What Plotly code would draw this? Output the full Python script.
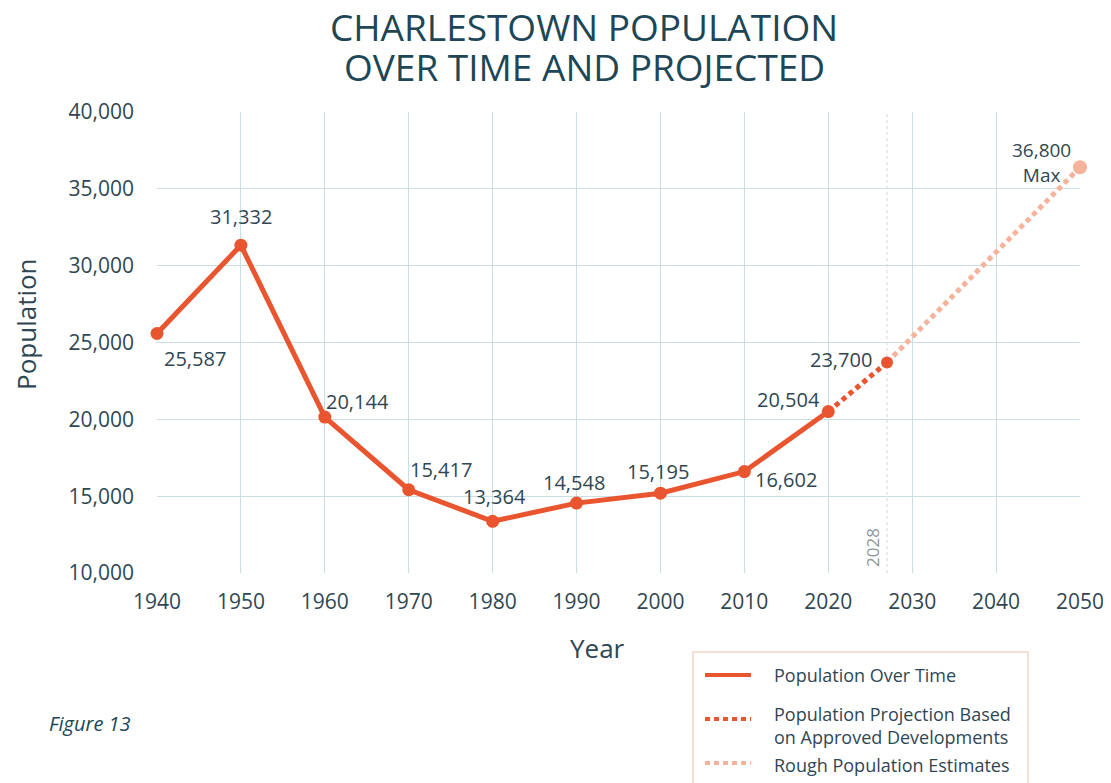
import plotly.graph_objects as go

# ---- data ----
hist_years = [1940, 1950, 1960, 1970, 1980, 1990, 2000, 2010, 2020]
hist_pop = [25587, 31332, 20144, 15417, 13364, 14548, 15195, 16602, 20504]
hist_labels = ["25,587", "31,332", "20,144", "15,417", "13,364", "14,548", "15,195", "16,602", "20,504"]

proj_years = [2020, 2027]
proj_pop = [20504, 23700]
proj_label = "23,700"

est_years = [2027, 2050]
est_pop = [23700, 36400]
est_label = "36,800<br>Max"

marker_year = 2027
marker_label = "2028"

x_ticks = [1940, 1950, 1960, 1970, 1980, 1990, 2000, 2010, 2020, 2030, 2040, 2050]
y_ticks = [10000, 15000, 20000, 25000, 30000, 35000, 40000]
y_ticklabels = ["10,000", "15,000", "20,000", "25,000", "30,000", "35,000", "40,000"]

legend_names = ["Population Over Time",
                "Population Projection Based<br>on Approved Developments",
                "Rough Population Estimates"]

# ---- style ----
ORANGE = "#E9552F"
LIGHT = "#F4B39A"
TEXT = "#2F4754"
TITLE = "#1D4756"
GRID = "#C9DFE2"
FONT = "Open Sans"
DASH = "5px,4px"

# label offsets (pixels) relative to points: (dx, dy) with dy positive downward
hist_offsets = [(38, 25), (0, -29), (33, -16), (32, -20), (2, -25), (-3, -21), (-2, -22), (42, 8), (-40, -12)]

# page geometry (browser body margin 8px)
BODY = 8
W, H = 1111 - BODY, 783 - BODY
L, T, PW, PH = 149, 104, 923, 461


def px(X):
    return (X - BODY - L) / PW


def py(Y):
    return (T + PH - (Y - BODY)) / PH


fig = go.Figure()

fig.add_trace(go.Scatter(
    x=hist_years, y=hist_pop, mode="lines+markers",
    name=legend_names[0],
    line=dict(color=ORANGE, width=5),
    marker=dict(color=ORANGE, size=13),
    showlegend=False, cliponaxis=False,
))

fig.add_trace(go.Scatter(
    x=proj_years, y=proj_pop, mode="lines",
    name=legend_names[1],
    line=dict(color=ORANGE, width=5, dash=DASH),
    showlegend=False,
))

fig.add_trace(go.Scatter(
    x=est_years, y=est_pop, mode="lines",
    name=legend_names[2],
    line=dict(color=LIGHT, width=5, dash=DASH),
    showlegend=False, cliponaxis=False,
))

fig.add_trace(go.Scatter(
    x=[proj_years[-1]], y=[proj_pop[-1]], mode="markers",
    marker=dict(color=ORANGE, size=12),
    showlegend=False, cliponaxis=False,
))
fig.add_trace(go.Scatter(
    x=[est_years[-1]], y=[est_pop[-1]], mode="markers",
    marker=dict(color=LIGHT, size=14),
    showlegend=False, cliponaxis=False,
))

annotations = []
for xv, yv, lab, (dx, dy) in zip(hist_years, hist_pop, hist_labels, hist_offsets):
    annotations.append(dict(
        x=xv, y=yv, xref="x", yref="y", text=lab, showarrow=False,
        xanchor="center", yanchor="middle", xshift=dx, yshift=-dy,
        font=dict(family=FONT, size=20, color=TEXT),
    ))

annotations.append(dict(
    x=proj_years[-1], y=proj_pop[-1], xref="x", yref="y", text=proj_label, showarrow=False,
    xanchor="right", yanchor="middle", xshift=-13, yshift=3,
    font=dict(family=FONT, size=20, color=TEXT),
))
annotations.append(dict(
    x=est_years[-1], y=est_pop[-1], xref="x", yref="y", text=est_label, showarrow=False,
    xanchor="right", yanchor="middle", xshift=-7, yshift=5, align="center",
    font=dict(family=FONT, size=19, color=TEXT),
))

# 2028 label
annotations.append(dict(
    x=marker_year, y=10000, xref="x", yref="y", text=marker_label, showarrow=False,
    textangle=-90, xanchor="right", yanchor="bottom", xshift=-1, yshift=4,
    font=dict(family=FONT, size=17, color="#8C979C"),
))

# titles
annotations.append(dict(x=px(584), y=py(27), xref="paper", yref="paper",
                        text="CHARLESTOWN POPULATION", showarrow=False,
                        xanchor="center", yanchor="middle",
                        font=dict(family=FONT, size=37, color=TITLE)))
annotations.append(dict(x=px(584), y=py(67), xref="paper", yref="paper",
                        text="OVER TIME AND PROJECTED", showarrow=False,
                        xanchor="center", yanchor="middle",
                        font=dict(family=FONT, size=37, color=TITLE)))

# axis titles
annotations.append(dict(x=px(597), y=py(648), xref="paper", yref="paper", text="Year",
                        showarrow=False, xanchor="center", yanchor="middle",
                        font=dict(family=FONT, size=26, color=TEXT)))
annotations.append(dict(x=px(26), y=py(324), xref="paper", yref="paper", text="Population",
                        showarrow=False, xanchor="center", yanchor="middle", textangle=-90,
                        font=dict(family=FONT, size=26, color=TEXT)))

# figure caption
annotations.append(dict(x=px(47), y=py(723), xref="paper", yref="paper", text="<i>Figure 13</i>",
                        showarrow=False, xanchor="left", yanchor="middle",
                        font=dict(family=FONT, size=20, color=TITLE)))

shapes = [
    dict(type="line", x0=marker_year, x1=marker_year, y0=0, y1=1,
         xref="x", yref="paper", line=dict(color="#E2E6E8", width=1.5, dash="dot"), layer="below"),
]

# manual legend
shapes.append(dict(type="rect", xref="paper", yref="paper",
                   x0=px(693), x1=px(1028), y0=py(800), y1=py(652),
                   line=dict(color="#F3D5C8", width=1.5), fillcolor="white", layer="above"))
legend_rows = [(675, 675, ORANGE, "solid"), (719, 725, ORANGE, DASH), (763, 765, LIGHT, DASH)]
for (ly, ty, col, dash), name in zip(legend_rows, legend_names):
    shapes.append(dict(type="line", xref="paper", yref="paper",
                       x0=px(705), x1=px(751), y0=py(ly), y1=py(ly),
                       line=dict(color=col, width=4, dash=dash)))
    annotations.append(dict(x=px(772), y=py(ty), xref="paper", yref="paper", text=name,
                            showarrow=False, xanchor="left", yanchor="middle", align="left",
                            font=dict(family=FONT, size=18, color=TEXT)))

fig.update_layout(
    width=W, height=H,
    margin=dict(l=L, r=W - L - PW, t=T, b=H - T - PH, autoexpand=False),
    paper_bgcolor="white", plot_bgcolor="white",
    font=dict(family=FONT, color=TEXT),
    xaxis=dict(
        range=[1940, 2050], tickvals=x_ticks, showgrid=True, gridcolor=GRID, gridwidth=1,
        zeroline=False, showline=False, ticks="", ticklabelstandoff=14,
        tickfont=dict(family=FONT, size=21, color=TEXT),
    ),
    yaxis=dict(
        range=[10000, 40000], tickvals=y_ticks, ticktext=y_ticklabels,
        showgrid=True, gridcolor=GRID, gridwidth=1, zeroline=False, showline=False, ticks="",
        ticklabelstandoff=22,
        tickfont=dict(family=FONT, size=21, color=TEXT),
    ),
    annotations=annotations,
    shapes=shapes,
    showlegend=False,
)

fig.write_html("out.html")
